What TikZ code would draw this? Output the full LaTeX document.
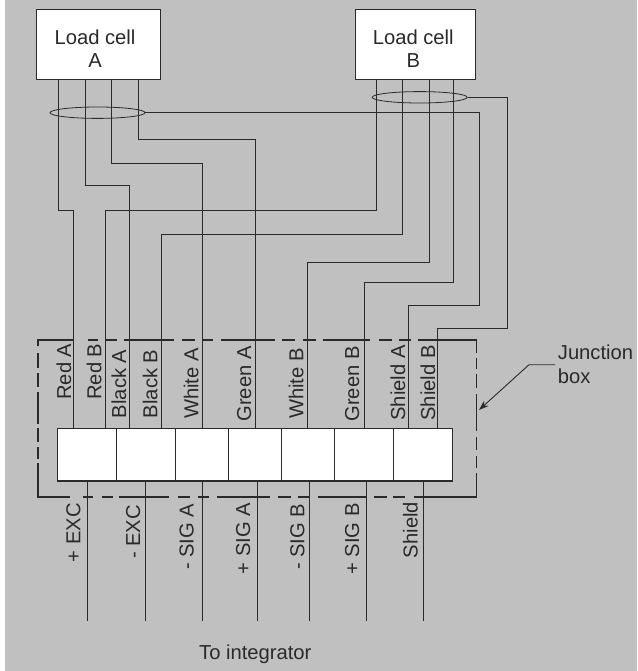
\documentclass[tikz,border=0pt]{standalone}
\usepackage{fontspec}
\setmainfont{Liberation Sans}
\usetikzlibrary{shapes.geometric,arrows.meta}
\definecolor{bggrey}{HTML}{C0C0C0}
\definecolor{ink}{HTML}{2A2A2A}
\begin{document}
\begin{tikzpicture}[x=1pt,y=-1pt,
  wire/.style={draw=ink,line width=0.9pt},
  dashseg/.style={draw=ink,line width=1.3pt,line cap=butt},
  boxed/.style={draw=ink,fill=white,line width=1.4pt,inner sep=0pt,anchor=north west,text=ink,align=center},
  cell/.style={draw=ink,fill=white,line width=1.2pt,inner sep=0pt,outer sep=0pt,anchor=north west,minimum height=52.3pt},
  shieldring/.style={ellipse,draw=ink,line width=0.8pt,inner sep=0pt,minimum width=95pt,minimum height=11.4pt},
  lab/.style={inner sep=0pt,text=ink,font=\fontsize{20.2}{24}\selectfont},
  rot/.style={lab,rotate=90,anchor=base west}]
\useasboundingbox (0,0) rectangle (637,671);
\fill[white] (0,0) rectangle (637,671);
\fill[bggrey] (5,0) rectangle (637,671);

% load cells
\node[boxed,minimum width=124pt,minimum height=70pt] (cellA) at (36,9) {};
\node[boxed,minimum width=120pt,minimum height=70pt] (cellB) at (355,9) {};
\node[lab,anchor=base] (tA1) at (95,44.3) {Load cell};
\node[lab,anchor=base] (tA2) at (95,68) {A};
\node[lab,anchor=base] (tB1) at (413.3,44.3) {Load cell};
\node[lab,anchor=base] (tB2) at (413.3,68) {B};

% terminal strip
\foreach \n/\a/\b in {1/57.7/116.3,2/116.3/175.3,3/175.3/228.7,4/228.7/281.7,5/281.7/334.7,6/334.7/393.3,7/393.3/452.3}{
  \pgfmathsetlengthmacro{\w}{\b-\a}
  \node[cell,minimum width=\w] (term\n) at (\a,428.7) {};
}

% named ends on the load cells
\foreach \n/\x in {1/58.7,2/85,3/111.7,4/138.3}{ \coordinate (a\n) at (\x,79); }
\foreach \n/\x in {1/376.7,2/402.7,3/429.7,4/453.7}{ \coordinate (b\n) at (\x,79); }
% named ends on the strip
\foreach \n/\x in {RA/73,RB/105.7,KA/129.3,KB/161.7,WA/202,GA/255.7,WB/307.7,GB/364.7,SA/408.3,SB/437}{ \coordinate (t\n) at (\x,428.7); }

% shield rings
\node[shieldring] (ringA) at (97.5,112.7) {};
\node[shieldring] (ringB) at (419.7,97.3) {};

% wires
\draw[wire] (a1) -- (a1 |- 0,210) -- (tRA |- 0,210) -- (tRA);
\draw[wire] (a2) -- (a2 |- 0,185) -- (tKA |- 0,185) -- (tKA);
\draw[wire] (a3) -- (a3 |- 0,163) -- (tWA |- 0,163) -- (tWA);
\draw[wire] (a4) -- (a4 |- 0,139.7) -- (tGA |- 0,139.7) -- (tGA);
\draw[wire] (b1) -- (b1 |- 0,210) -- (tRB |- 0,210) -- (tRB);
\draw[wire] (b2) -- (b2 |- 0,234.3) -- (tKB |- 0,234.3) -- (tKB);
\draw[wire] (b3) -- (b3 |- 0,262.3) -- (tWB |- 0,262.3) -- (tWB);
\draw[wire] (b4) -- (b4 |- 0,282.3) -- (tGB |- 0,282.3) -- (tGB);
\draw[wire] (ringA.east) -- (479.3,112.7) -- (479.3,305.7) -- (tSA |- 0,305.7) -- (tSA);
\draw[wire] (ringB.east) -- (507,97.3) -- (507,328.3) -- (tSB |- 0,328.3) -- (tSB);

% junction box outline
\foreach \a/\b in {37.3/73.3,87.5/98.3,106/117.3,124/174,182/195,202/213.3,221/275,282.3/295,303.3/315.7,322.7/370,379/391.7,399/411,417.7/476.9}{
  \draw[dashseg] (\a,340) -- (\b,340);
}
\foreach \a/\b in {37.3/70,83.3/92.7,101.7/112.7,119.3/169.3,178.3/190,197.7/209,216.7/270,278.3/291,297.7/310,317.7/366.7,374/386.7,393.3/405,414.3/476.9}{
  \draw[dashseg] (\a,497) -- (\b,497);
}
\foreach \a/\b in {340/346,353.3/367.7,373.3/387.3,391.7/424.3,428.3/441.7,447.3/459.3,463.3/497.6}{
  \draw[dashseg] (38,\a) -- (38,\b);
}
\foreach \a/\b in {339.4/353.3,358.3/369.3,374.3/387.7,394.3/431,437/450,455.7/468.3,473.3/497.6}{
  \draw[dashseg] (476.3,\a) -- (476.3,\b);
}

% output wires
\foreach \n/\x in {1/87.7,2/145.7,3/202,4/257.3,5/309.3,6/366.7,7/423.3}{
  \coordinate (o\n) at (\x,481);
  \coordinate (e\n) at (\x,621.3);
  \draw[wire] (o\n) -- (e\n);
}

% wire labels
\node[rot] (l1) at (71,400) {Red A};
\node[rot] (l2) at (101.3,400) {Red B};
\node[rot] (l3) at (126,418.3) {Black A};
\node[rot] (l4) at (157.3,418.3) {Black B};
\node[rot] (l5) at (198.3,419) {White A};
\node[rot] (l6) at (251,421.7) {Green A};
\node[rot] (l7) at (303.3,419) {White B};
\node[rot] (l8) at (359,421.7) {Green B};
\node[rot] (l9) at (405,420.7) {Shield A};
\node[rot] (l10) at (435,420.7) {Shield B};
% output labels
\node[rot] (m1) at (80.3,562.3) {+ EXC};
\node[rot] (m2) at (140,559) {- EXC};
\node[rot] (m3) at (193.7,570) {- SIG A};
\node[rot] (m4) at (250,574.3) {+ SIG A};
\node[rot] (m5) at (304.3,570) {- SIG B};
\node[rot] (m6) at (359,575) {+ SIG B};
\node[rot] (m7) at (417.7,558.3) {Shield};

\node[lab,anchor=base west] (integ) at (199,659.3) {To integrator};
\node[lab,anchor=base west] (jb1) at (557.7,359.3) {Junction};
\node[lab,anchor=base west] (jb2) at (557.7,383.3) {box};

% leader
\coordinate (lstart) at (555,364.7);
\coordinate (ltip) at (479,410);
\draw[wire,-{Stealth[length=10pt,width=7pt]}] (lstart) -- (529,364.7) -- (ltip);
\end{tikzpicture}
\end{document}
